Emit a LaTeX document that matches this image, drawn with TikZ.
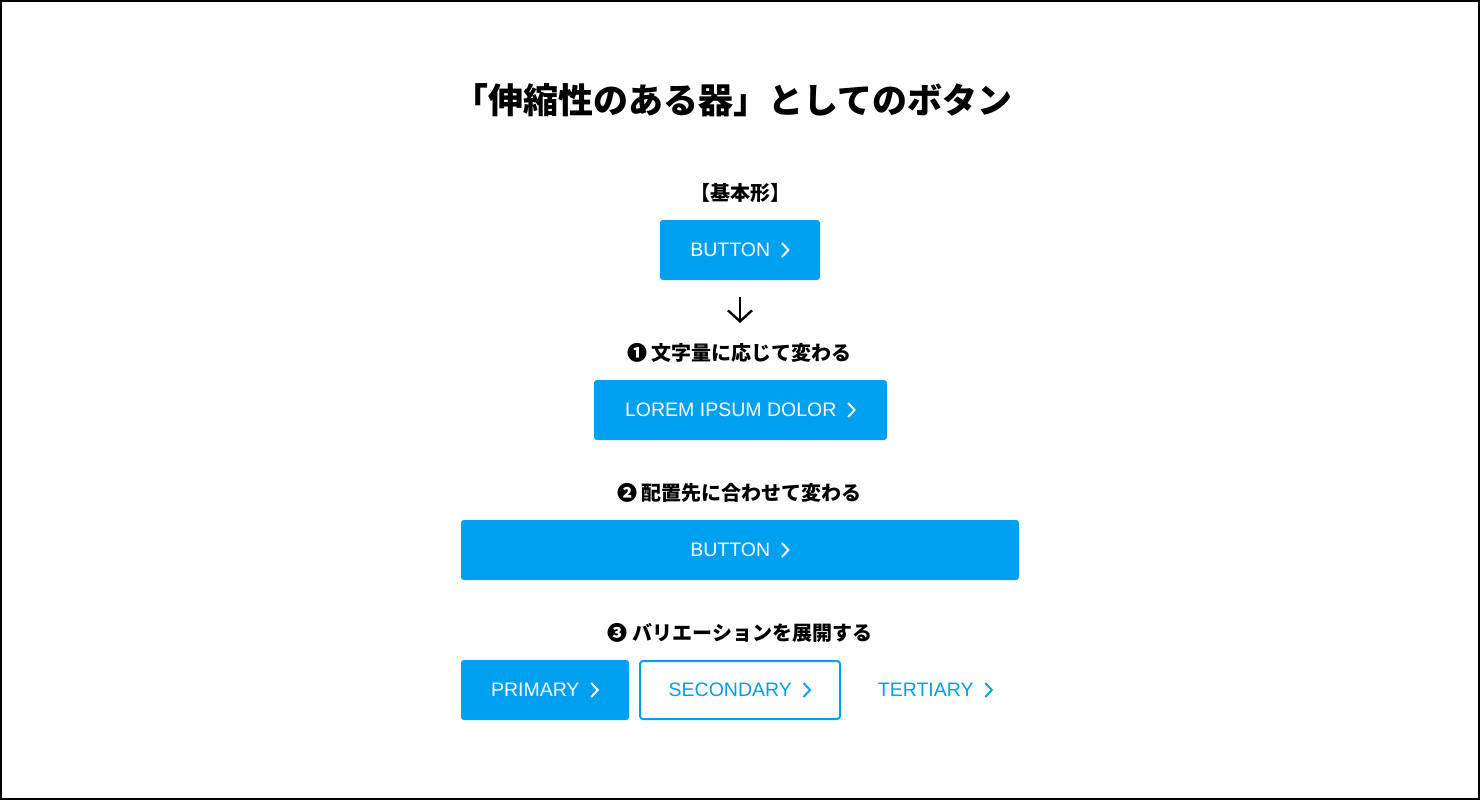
\documentclass[tikz,border=0pt]{standalone}
\usepackage{fontspec}
\setmainfont{Liberation Sans}
\newfontfamily\jp{Noto Sans CJK JP}
\usetikzlibrary{arrows.meta,calc}
\definecolor{btnblue}{HTML}{00A0F0}
\tikzset{
  btn/.style={fill=btnblue, draw=none, rounded corners=3pt, minimum height=60pt, inner sep=0pt},
  btnout/.style={draw=btnblue, line width=2pt, fill=white, rounded corners=3pt, minimum height=58pt, inner sep=0pt},
  btntext/.style={font=\fontsize{19.5}{20}\selectfont, inner sep=0pt, text=white},
  chev/.style={line width=1.9pt, line cap=butt, line join=miter, draw=white},
  lbl/.style={font=\jp\bfseries\fontsize{20}{22}\selectfont, inner sep=0pt, anchor=base},
  ttl/.style={font=\jp\bfseries\fontsize{35}{38}\selectfont, inner sep=0pt, anchor=base},
  downarr/.style={line width=2.4pt, -{Straight Barb[length=11pt,width=24pt,line width=2.4pt]}}
}
\newcommand\mychev[2]{\draw[chev,#2] ($(#1.east)+(-8,-7)$) -- ($(#1.east)+(-1.5,0)$) -- ($(#1.east)+(-8,7)$);}
\newcommand\chevgap{\kern19.5pt}
\begin{document}
\begin{tikzpicture}[x=1pt,y=-1pt]
\useasboundingbox (0,0) rectangle (1480,800);
\fill[white] (0,0) rectangle (1480,800);
\draw[line width=2pt] (1,1) rectangle (1479,799);

% title
\node[ttl] (title) at (732.5,113.5) {「伸縮性のある器」としてのボタン};

% basic form
\node[lbl] (h0) at (740,200.5) {【基本形】};
\node[btn, minimum width=160pt] (b1) at (740,250) {};
\node[btntext] (t1) at (b1.center) {BUTTON\chevgap};
\mychev{t1}{}

\coordinate (a1) at (740,297);
\coordinate (a2) at (740,323);
\draw[downarr] (a1) -- (a2);

% 1
\node[lbl] (h1) at (739.5,360.5) {❶ 文字量に応じて変わる};
\node[btn, minimum width=293pt] (b2) at (740.5,410) {};
\node[btntext] (t2) at (b2.center) {LOREM IPSUM DOLOR\chevgap};
\mychev{t2}{}

% 2
\node[lbl] (h2) at (739.5,500.5) {❷ 配置先に合わせて変わる};
\node[btn, minimum width=558pt] (b3) at (740,550) {};
\node[btntext] (t3) at (b3.center) {BUTTON\chevgap};
\mychev{t3}{}

% 3
\node[lbl] (h3) at (740,640.5) {❸ バリエーションを展開する};
\node[btn, minimum width=168pt] (b4) at (545,690) {};
\node[btntext] (t4) at (b4.center) {PRIMARY\chevgap};
\mychev{t4}{}
\node[btnout, minimum width=200pt] (b5) at (740,690) {};
\node[btntext, text=btnblue] (t5) at (b5.center) {SECONDARY\chevgap};
\mychev{t5}{draw=btnblue}
\node[btntext, text=btnblue] (t6) at (935.5,690) {TERTIARY\chevgap};
\mychev{t6}{draw=btnblue}
\end{tikzpicture}
\end{document}
